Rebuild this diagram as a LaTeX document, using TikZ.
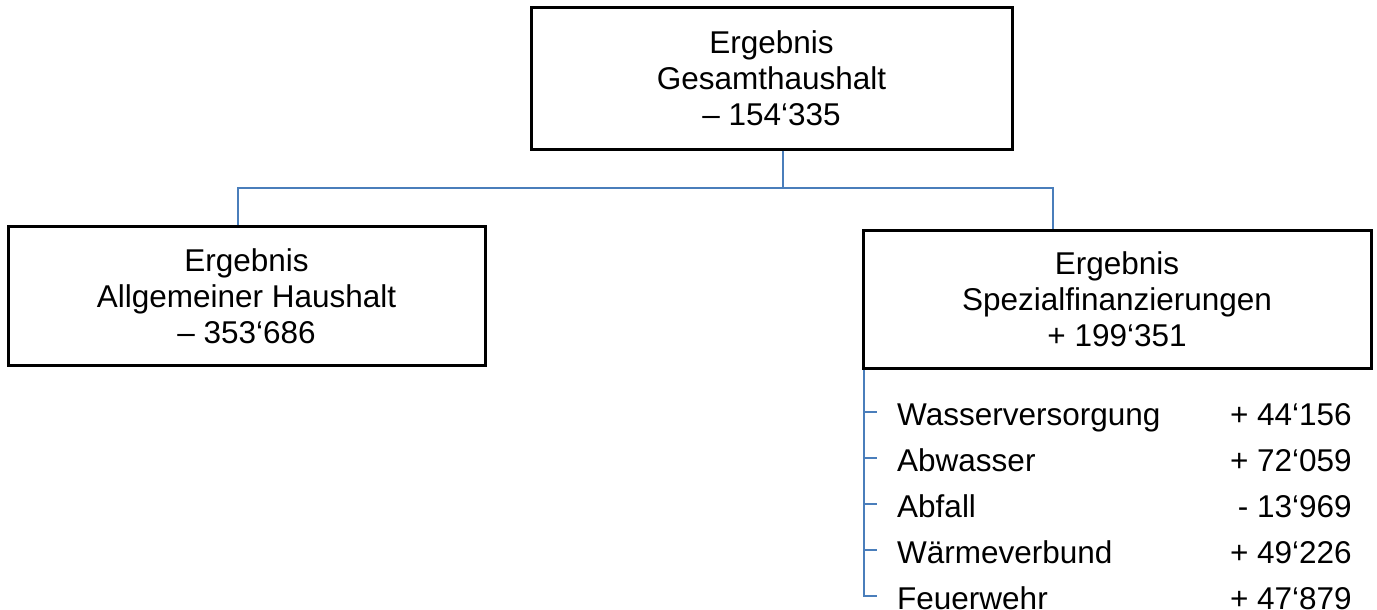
\documentclass[tikz,border=0pt]{standalone}
\usepackage{fontspec}
\setmainfont{Liberation Sans}
\definecolor{connblue}{RGB}{74,126,187}
\begin{document}
\begin{tikzpicture}[x=1pt,y=-1pt,
  box/.style={draw=black, line width=3pt, fill=white, align=center, inner sep=0pt,
    font=\fontsize{31.5}{36}\selectfont},
  conn/.style={draw=connblue, line width=2.5pt},
  item/.style={anchor=base west, inner sep=0pt, font=\fontsize{31.5}{36}\selectfont},
  val/.style={anchor=base east, inner sep=0pt, font=\fontsize{31.5}{36}\selectfont}]
\useasboundingbox (0,0) rectangle (1377,610);
\fill[white] (0,0) rectangle (1377,610);
% boxes
\node[box, minimum width=481pt, minimum height=141pt] (top) at (771.5,78.5)
  {Ergebnis\\Gesamthaushalt\\– 154‘335};
\node[box, minimum width=477pt, minimum height=139pt] (left) at (246.5,296)
  {Ergebnis\\Allgemeiner Haushalt\\– 353‘686};
\node[box, minimum width=508pt, minimum height=138pt] (right) at (1117,299)
  {Ergebnis\\Spezialfinanzierungen\\+ 199‘351};
% connectors
\coordinate (j) at (783,188);
\coordinate (jl) at (238,188);
\coordinate (jr) at (1053,188);
\draw[conn] (top.south -| j) -- (j);
\draw[conn] (left.north -| jl) -- (jl) -- (jr) -- (right.north -| jr);
% list
\node[item] (w1) at (897,425) {Wasserversorgung};
\node[item] (w2) at (897,471) {Abwasser};
\node[item] (w3) at (897,517) {Abfall};
\node[item] (w4) at (897,563) {Wärmeverbund};
\node[item] (w5) at (897,609) {Feuerwehr};
\node[val] (v1) at (1352,425) {+ 44‘156};
\node[val] (v2) at (1352,471) {+ 72‘059};
\node[val] (v3) at (1352,517) {- 13‘969};
\node[val] (v4) at (1352,563) {+ 49‘226};
\node[val] (v5) at (1352,609) {+ 47‘879};
\coordinate (sp) at (864,0);
\coordinate (t1) at (864,412);
\coordinate (t2) at (864,458);
\coordinate (t3) at (864,504);
\coordinate (t4) at (864,550);
\coordinate (t5) at (864,596);
\draw[conn] (right.south -| sp) -- (t5) -- ++(13,0);
\foreach \t in {t1,t2,t3,t4} \draw[conn] (\t) -- ++(13,0);
\end{tikzpicture}
\end{document}
